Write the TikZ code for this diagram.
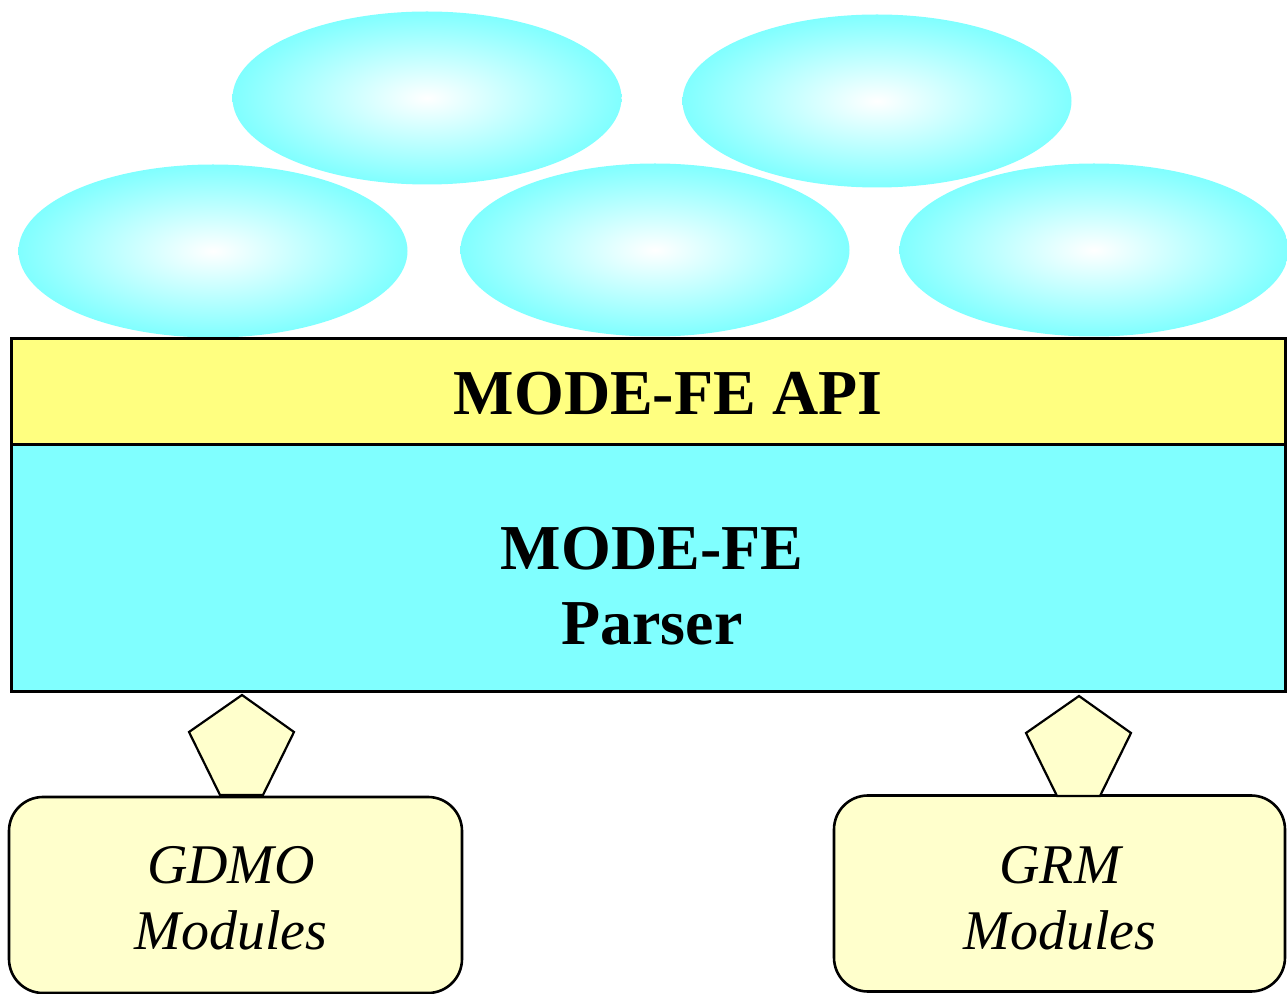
\documentclass[tikz,border=0pt]{standalone}
\usepackage{fontspec}
\setmainfont{Liberation Serif}
\usepackage{tikz}
\usetikzlibrary{shapes}
\definecolor{apiyellow}{HTML}{FFFF80}
\definecolor{fecyan}{HTML}{80FFFF}
\definecolor{modyellow}{HTML}{FFFFCC}
\tikzstyle{blob} = [ellipse, inner sep=0pt, minimum width=194.5pt, minimum height=86.5pt, shading=radial, inner color=white, outer color=fecyan]
\tikzstyle{layer} = [draw, line width=1.5pt, inner sep=0pt, minimum width=637pt]
\tikzstyle{plug} = [draw, line width=1.1pt, line join=miter, fill=modyellow]
\tikzstyle{module} = [draw, line width=1.3pt, rounded corners=17pt, inner sep=0pt, fill=modyellow, minimum height=98pt]
\tikzstyle{boldtext} = [font=\fontsize{32}{37.5}\selectfont\bfseries, align=center]
\tikzstyle{modtext} = [font=\fontsize{28}{33}\selectfont\itshape, align=center]

\begin{document}
\begin{tikzpicture}[x=0.5pt, y=-0.5pt]
    \useasboundingbox (0,0) rectangle (1287,994);

    % top ellipses
    \node[blob] (blobA) at (427, 98) {};
    \node[blob] (blobB) at (877, 101) {};
    \node[blob] (blobC) at (213, 251) {};
    \node[blob] (blobD) at (655, 250) {};
    \node[blob] (blobE) at (1094, 250) {};

    % layers
    \node[layer, fill=apiyellow, minimum height=53pt] (api) at (648, 392) {};
    \node[layer, fill=fecyan, minimum height=123.5pt] (parser) at (648, 568.5) {};
    \node[boldtext] (apitext) at (668, 394) {MODE-FE API};
    \node[boldtext] (parsertext) at (652, 586) {MODE-FE\\Parser};

    % modules
    \node[module, minimum width=226.5pt] (gdmo) at (235.5, 895) {};
    \node[module, minimum width=225.5pt] (grm) at (1059.5, 893.5) {};
    \node[modtext] (gdmotext) at (231, 898) {GDMO\\Modules};
    \node[modtext] (grmtext) at (1060, 898) {GRM\\Modules};

    % plugs
    \coordinate (gdmoplug) at (242, 695);
    \coordinate (grmplug) at (1079, 696);
    \foreach \p in {gdmoplug, grmplug}
        \filldraw[plug] (\p) -- ++(52, 37) -- ++(-31, 63) -- ++(-43, 0) -- ++(-31, -63) -- cycle;
\end{tikzpicture}
\end{document}
